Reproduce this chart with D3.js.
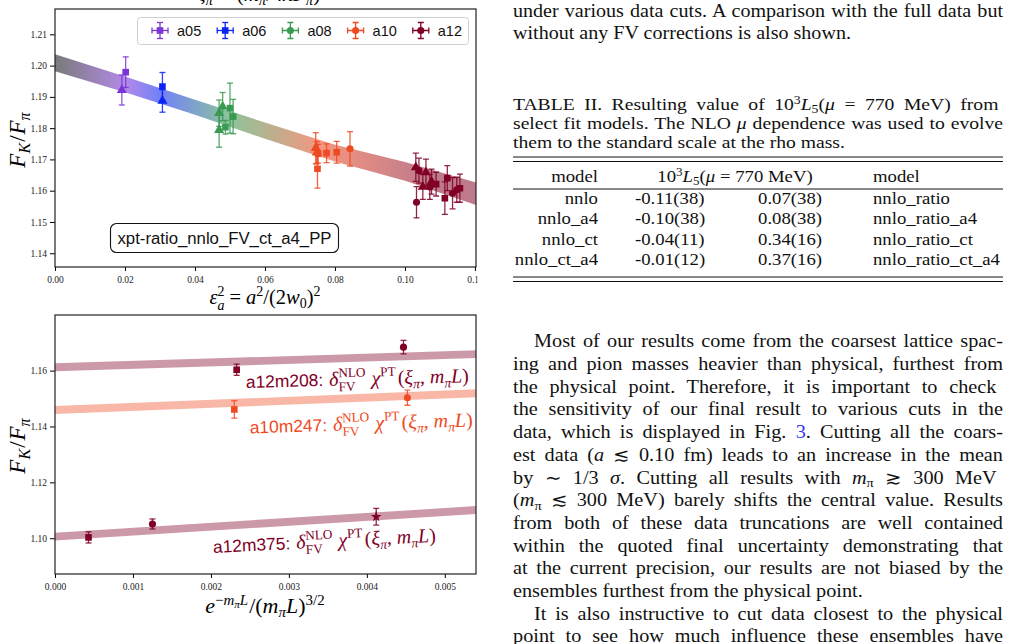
<!DOCTYPE html>
<html>
<head>
<meta charset="utf-8">
<script src="https://cdn.jsdelivr.net/npm/d3@7/dist/d3.min.js"></script>
<style>
  body { margin: 0; background: #fff; }
  svg { display: block; }
</style>
</head>
<body>
<script>
// ---------------- data ----------------
// top panel: F_K/F_pi vs eps_a^2, one row per ensemble point: [eps2, value, err, marker]
const ensembles = ["a05", "a06", "a08", "a10", "a12"];
const ensColors = ["#7b35d6", "#0c25f5", "#3a9a52", "#ee4a24", "#800026"];
const legendMarkers = ["sq", "sq", "circ", "circ", "circ"];

const a05Pts = [[0.0191, 1.1922, 0.0048, "tri"], [0.0202, 1.1979, 0.0049, "sq"]];
const a06Pts = [[0.0307, 1.1887, 0.0036, "tri"], [0.0307, 1.1933, 0.0045, "sq"]];
const a08Pts = [[0.0469, 1.1794, 0.0055, "tri"], [0.0469, 1.1848, 0.0042, "tri"], [0.0479, 1.1869, 0.0045, "tri"],
                [0.0487, 1.1803, 0.0022, "sq"], [0.0500, 1.1864, 0.0080, "sq"], [0.0509, 1.1837, 0.0055, "sq"]];
const a10Pts = [[0.0745, 1.1736, 0.0050, "tri"], [0.0748, 1.1722, 0.0035, "tri"], [0.0752, 1.1718, 0.0030, "sq"],
                [0.0750, 1.1670, 0.0062, "sq"], [0.0776, 1.1720, 0.0030, "sq"], [0.0805, 1.1723, 0.0035, "sq"],
                [0.0843, 1.1734, 0.0055, "circ"]];
const a12Pts = [[0.1031, 1.1675, 0.0045, "tri"], [0.1040, 1.1664, 0.0040, "circ"], [0.1033, 1.1563, 0.0050, "circ"],
                [0.1060, 1.1659, 0.0042, "tri"], [0.1051, 1.1612, 0.0040, "tri"], [0.1071, 1.1612, 0.0040, "circ"],
                [0.1076, 1.1629, 0.0040, "tri"], [0.1089, 1.1621, 0.0038, "sq"], [0.1121, 1.1640, 0.0040, "sq"],
                [0.1114, 1.1576, 0.0052, "sq"], [0.1136, 1.1592, 0.0050, "circ"], [0.1148, 1.1603, 0.0040, "circ"],
                [0.1157, 1.1608, 0.0045, "sq"]];
const topPts = [a05Pts, a06Pts, a08Pts, a10Pts, a12Pts];

// fit band of the top panel
const fitEps = [0, 0.02, 0.04, 0.06, 0.08, 0.10, 0.1203];
const fitMid = [1.2009, 1.1940, 1.1867, 1.1792, 1.1720, 1.1662, 1.1590];
const fitErr = [0.0027, 0.0025, 0.0024, 0.0026, 0.0027, 0.0030, 0.0036];
const fitColorEps = [0, 0.02, 0.03, 0.05, 0.076, 0.107]; // where the band takes each ensemble colour

const topTicksX = [0, 0.02, 0.04, 0.06, 0.08, 0.10, 0.12];
const topTicksY = [1.14, 1.15, 1.16, 1.17, 1.18, 1.19, 1.20, 1.21];
const modelName = "xpt-ratio_nnlo_FV_ct_a4_PP";

// bottom panel: finite volume
const fvX = [0, 0.0054];
const fvNames = ["a12m208", "a10m247", "a12m375"];
const fvColors = ["#800026", "#ee4a24", "#800026"];
const fvBands = [[1.1612, 1.1659], [1.1459, 1.1519], [1.1006, 1.1101]];
const fvBandErr = 0.0014;
const a12m208Pts = [[0.00233, 1.1603, 0.0020, "sq"], [0.00447, 1.1684, 0.0024, "circ"]];
const a10m247Pts = [[0.00230, 1.1461, 0.0031, "sq"], [0.00452, 1.1503, 0.0027, "circ"]];
const a12m375Pts = [[0.00043, 1.1003, 0.0020, "sq"], [0.00125, 1.1051, 0.0018, "circ"], [0.00412, 1.1077, 0.0030, "star"]];
const fvPts = [a12m208Pts, a10m247Pts, a12m375Pts];
const fvLabelAt = [[0.00245, 1.1538], [0.0025, 1.1375], [0.00203, 1.0947]];
const botTicksX = [0, 0.001, 0.002, 0.003, 0.004, 0.005];
const botTicksY = [1.10, 1.12, 1.14, 1.16];

// right column text
const introLines = ["under various data cuts. A comparison with the full data but",
                    "without any FV corrections is also shown."];
const captionLines = ["TABLE II.  Resulting value of 10^3^*L*_{5}(*μ* = 770 MeV) from",
                      "select fit models. The NLO *μ* dependence was used to evolve",
                      "them to the standard scale at the rho mass."];
const tableHead = ["model", "10^3^*L*_{5}(*μ* = 770 MeV)", "model"];
const tableModelsL = ["nnlo", "nnlo_a4", "nnlo_ct", "nnlo_ct_a4"];
const tableValsL = ["-0.11(38)", "-0.10(38)", "-0.04(11)", "-0.01(12)"];
const tableValsR = ["0.07(38)", "0.08(38)", "0.34(16)", "0.37(16)"];
const tableModelsR = ["nnlo_ratio", "nnlo_ratio_a4", "nnlo_ratio_ct", "nnlo_ratio_ct_a4"];
const bodyLines = [
  "Most of our results come from the coarsest lattice spac-",
  "ing and pion masses heavier than physical, furthest from",
  "the physical point.  Therefore, it is important to check",
  "the sensitivity of our final result to various cuts in the",
  "data, which is displayed in Fig. #3#. Cutting all the coars-",
  "est data (*a* ≲ 0.10 fm) leads to an increase in the mean",
  "by ∼ 1/3 *σ*.  Cutting all results with *m*_{π} ≳ 300 MeV",
  "(*m*_{π} ≲ 300 MeV) barely shifts the central value. Results",
  "from both of these data truncations are well contained",
  "within the quoted final uncertainty demonstrating that",
  "at the current precision, our results are not biased by the",
  "ensembles furthest from the physical point.",
  "It is also instructive to cut data closest to the physical",
  "point to see how much influence these ensembles have"];
const bodyIndent = [0, 12];
const bodyLast = [11];

// ---------------- helpers ----------------
const SANS = "'Liberation Sans', Arial, sans-serif";
const SERIF = "'Liberation Serif', 'Times New Roman', serif";

// mini markup: *italic*  ^sup^  _{sub}  #blue#
function parse(str) {
  return str.split(/(\*[^*]+\*|\^[^^]+\^|_\{[^}]+\}|#[^#]+#)/).filter(s => s.length).map(p => {
    if (p[0] === "*") return [p.slice(1, -1), {i: 1}];
    if (p[0] === "^") return [p.slice(1, -1), {b: -0.36, s: 0.7}];
    if (p[0] === "_" && p[1] === "{") return [p.slice(2, -1), {b: 0.2, s: 0.7}];
    if (p[0] === "#") return [p.slice(1, -1), {c: "#2a3bf0"}];
    return [p, {}];
  });
}

function spans(t, items, size) {
  let off = 0, prevW = 0, carry = 0;
  items.forEach(([s, o]) => {
    const base = (o.b || 0) * size;
    const ts = t.append("tspan").text(s).attr("dy", base - off);
    off = base;
    if (o.i) ts.style("font-style", "italic");
    if (o.s) ts.style("font-size", (o.s * size) + "px");
    if (o.f) ts.style("font-family", o.f);
    if (o.c) ts.attr("fill", o.c);
    let dx = carry + (o.dx || 0); carry = 0;
    if (o.under) dx -= prevW;
    if (dx) ts.attr("dx", dx);
    const w = ts.node().getComputedTextLength();
    if (o.under) carry = Math.max(0, prevW - w);
    prevW = w;
  });
}

function justify(t, width) {
  const n = t.node();
  const len = n.getComputedTextLength();
  const spaces = (n.textContent.match(/ /g) || []).length;
  if (spaces) t.style("word-spacing", ((width - len) / spaces) + "px");
}

const sym = {sq: d3.symbolSquare, tri: d3.symbolTriangle, circ: d3.symbolCircle, star: d3.symbolStar};
const symSize = {sq: 44, tri: 44, circ: 40, star: 36};

function drawPoints(g, pts, x, y, color) {
  const grp = g.append("g");
  pts.forEach(p => {
    const px = x(p[0]), ya = y(p[1] - p[2]), yb = y(p[1] + p[2]);
    const eb = grp.append("g").attr("stroke", color).attr("stroke-width", 1.3).attr("stroke-opacity", 0.85);
    eb.append("line").attr("x1", px).attr("x2", px).attr("y1", ya).attr("y2", yb);
    eb.append("line").attr("x1", px - 3).attr("x2", px + 3).attr("y1", ya).attr("y2", ya);
    eb.append("line").attr("x1", px - 3).attr("x2", px + 3).attr("y1", yb).attr("y2", yb);
    grp.append("path")
      .attr("d", d3.symbol().type(sym[p[3]]).size(symSize[p[3]])())
      .attr("transform", `translate(${px},${y(p[1])})`)
      .attr("fill", color);
  });
}

function drawAxes(g, x, y, xt, yt, xf, yf) {
  const ax = g.append("g").attr("transform", `translate(0,${y.range()[0]})`)
    .call(d3.axisBottom(x).tickValues(xt).tickFormat(d3.format(xf)).tickSize(4).tickPadding(5));
  const ay = g.append("g").attr("transform", `translate(${x.range()[0]},0)`)
    .call(d3.axisLeft(y).tickValues(yt).tickFormat(d3.format(yf)).tickSize(5).tickPadding(3));
  [ax, ay].forEach(a => {
    a.select(".domain").remove();
    a.attr("font-family", SERIF).attr("font-size", 9.5);
    a.selectAll(".tick text").attr("fill", "#222");
  });
  g.append("rect")
    .attr("x", x.range()[0]).attr("y", y.range()[1])
    .attr("width", x.range()[1] - x.range()[0]).attr("height", y.range()[0] - y.range()[1])
    .attr("fill", "none").attr("stroke", "#222").attr("stroke-width", 1.2);
}

function fkfpi(g, tx, ty) {
  const t = g.append("text").attr("transform", `translate(${tx},${ty}) rotate(-90)`)
    .attr("text-anchor", "middle").style("font-family", SERIF).style("font-size", "23px");
  spans(t, [["F", {i: 1}], ["K", {b: 0.22, s: 0.7, i: 1}], ["/", {dx: 1}], ["F", {i: 1, dx: 1}], ["π", {b: 0.22, s: 0.7, i: 1}]], 23);
}

// ---------------- svg ----------------
const svg = d3.select("body").append("svg").attr("width", 1010).attr("height", 644)
  .style("font-family", SERIF);
const defs = svg.append("defs");
defs.append("clipPath").attr("id", "leftclip")
  .append("rect").attr("x", 0).attr("y", 0).attr("width", 477.5).attr("height", 644);
const left = svg.append("g").attr("clip-path", "url(#leftclip)");

// ---------- top panel ----------
const xTop = d3.scaleLinear().domain([0, 0.1203]).range([55, 476]);
const yTop = d3.scaleLinear().domain([1.1356, 1.2181]).range([267, 9]);

const grad = defs.append("linearGradient").attr("id", "bandgrad")
  .attr("gradientUnits", "userSpaceOnUse")
  .attr("x1", xTop(0)).attr("x2", xTop(0.1203)).attr("y1", 0).attr("y2", 0);
const gradColors = ["#1a1a1a", "#7b35d6", "#0c25f5", "#3a9a52", "#ee4a24", "#8e1a38"];
fitColorEps.forEach((e, i) => {
  grad.append("stop").attr("offset", e / 0.1203).attr("stop-color", gradColors[i]);
});

const fitData = fitEps.map((e, i) => ({e: e, m: fitMid[i], s: fitErr[i]}));
left.append("path").datum(fitData)
  .attr("d", d3.area().x(d => xTop(d.e)).y0(d => yTop(d.m - d.s)).y1(d => yTop(d.m + d.s)))
  .attr("fill", "url(#bandgrad)").attr("fill-opacity", 0.58);

topPts.forEach((pts, i) => drawPoints(left, pts, xTop, yTop, ensColors[i]));
drawAxes(left, xTop, yTop, topTicksX, topTicksY, ".2f", ".2f");

// legend
const leg = left.append("g");
leg.append("rect").attr("x", 137.5).attr("y", 17.5).attr("width", 331).attr("height", 27).attr("rx", 3)
  .attr("fill", "#fff").attr("fill-opacity", 0.85).attr("stroke", "#cfcfcf");
ensembles.forEach((name, i) => {
  const cx = 160 + i * 65.2, cy = 30.5, c = ensColors[i];
  const eb = leg.append("g").attr("stroke", c).attr("stroke-width", 1.3);
  eb.append("line").attr("x1", cx - 8).attr("x2", cx + 8).attr("y1", cy).attr("y2", cy);
  eb.append("line").attr("x1", cx).attr("x2", cx).attr("y1", cy - 8).attr("y2", cy + 8);
  [-8, 8].forEach(d => {
    eb.append("line").attr("x1", cx - 3).attr("x2", cx + 3).attr("y1", cy + d).attr("y2", cy + d);
    eb.append("line").attr("x1", cx + d).attr("x2", cx + d).attr("y1", cy - 3).attr("y2", cy + 3);
  });
  leg.append("path").attr("d", d3.symbol().type(sym[legendMarkers[i]]).size(symSize[legendMarkers[i]])())
    .attr("transform", `translate(${cx},${cy})`).attr("fill", c);
  leg.append("text").attr("x", cx + 17).attr("y", cy + 5.5).text(name)
    .style("font-family", SANS).style("font-size", "14.5px").attr("fill", "#111");
});

// model name box
left.append("rect").attr("x", 110.5).attr("y", 223.5).attr("width", 228).attr("height", 29).attr("rx", 6)
  .attr("fill", "#fff").attr("stroke", "#111").attr("stroke-width", 1.1);
left.append("text").attr("x", 224.5).attr("y", 243.5).attr("text-anchor", "middle")
  .attr("textLength", 214).attr("lengthAdjust", "spacingAndGlyphs")
  .style("font-family", SANS).style("font-size", "16px").attr("fill", "#111").text(modelName);

// axis labels, top panel
fkfpi(left, 25, 140);
const xl1 = left.append("text").attr("x", 265).attr("y", 304).attr("text-anchor", "middle").style("font-size", "20.5px");
spans(xl1, [["ε", {i: 1}], ["2", {b: -0.38, s: 0.68}], ["a", {b: 0.28, s: 0.68, i: 1, under: 1}],
            ["=", {dx: 5}], ["a", {i: 1, dx: 5}], ["2", {b: -0.38, s: 0.68}], ["/(2", {}], ["w", {i: 1}],
            ["0", {b: 0.2, s: 0.68}], [")", {}], ["2", {b: -0.38, s: 0.68}]], 20.5);
// title of the panel above, cut by the page edge
const tl = left.append("text").attr("x", 262).attr("y", 0.5).attr("text-anchor", "middle").style("font-size", "21px");
spans(tl, [["ξ", {i: 1}], ["π", {b: 0.22, s: 0.7, i: 1}], ["=", {dx: 6}], ["(", {dx: 6}], ["m", {i: 1}], ["π", {b: 0.22, s: 0.7, i: 1}],
           ["/4", {}], ["π", {i: 1}], ["F", {i: 1}], ["π", {b: 0.22, s: 0.7, i: 1}], [")", {}], ["2", {b: -0.4, s: 0.7}]], 21);

// ---------- bottom panel ----------
const xBot = d3.scaleLinear().domain([0, 0.0054]).range([55, 476]);
const yBot = d3.scaleLinear().domain([1.0872, 1.1799]).range([574, 315]);

fvBands.forEach((b, i) => {
  const d = fvX.map((x, j) => ({x: x, m: b[j]}));
  left.append("path").datum(d)
    .attr("d", d3.area().x(p => xBot(p.x)).y0(p => yBot(p.m - fvBandErr)).y1(p => yBot(p.m + fvBandErr)))
    .attr("fill", fvColors[i]).attr("fill-opacity", 0.4);
});
fvPts.forEach((pts, i) => drawPoints(left, pts, xBot, yBot, fvColors[i]));
drawAxes(left, xBot, yBot, botTicksX, botTicksY, ".3f", ".2f");

fvNames.forEach((name, i) => {
  const b = fvBands[i];
  const ang = Math.atan2(yBot(b[1]) - yBot(b[0]), xBot(fvX[1]) - xBot(fvX[0])) * 180 / Math.PI;
  const lx = xBot(fvLabelAt[i][0]), ly = yBot(fvLabelAt[i][1]);
  const t = left.append("text").attr("transform", `translate(${lx},${ly}) rotate(${ang * 0.8})`)
    .attr("fill", fvColors[i]).style("font-size", "20px");
  spans(t, [[name + ":", {f: SANS, s: 0.87}], ["δ", {i: 1, dx: 6}], ["NLO", {b: -0.42, s: 0.66}],
            ["FV", {b: 0.28, s: 0.66, under: 1}], ["χ", {i: 1, dx: 6}], ["PT", {b: -0.42, s: 0.66}],
            ["(", {dx: 2}], ["ξ", {i: 1}], ["π", {b: 0.22, s: 0.68, i: 1}], [", ", {}], ["m", {i: 1}],
            ["π", {b: 0.22, s: 0.68, i: 1}], ["L", {i: 1}], [")", {}]], 20);
});

fkfpi(left, 25, 446);
const xl2 = left.append("text").attr("x", 265).attr("y", 613).attr("text-anchor", "middle").style("font-size", "22px");
spans(xl2, [["e", {i: 1}], ["−", {b: -0.38, s: 0.68}], ["m", {b: -0.38, s: 0.68, i: 1}], ["π", {b: -0.24, s: 0.5, i: 1}],
            ["L", {b: -0.38, s: 0.68, i: 1}], ["/(", {dx: 1}], ["m", {i: 1}], ["π", {b: 0.2, s: 0.68, i: 1}],
            ["L", {i: 1}], [")", {}], ["3/2", {b: -0.38, s: 0.68}]], 22);

// ---------- right column ----------
const right = svg.append("g").attr("fill", "#111");
const colL = 513, colW = 490;

// a block of lines: all scaled horizontally so that one reference line gets its printed width
function block(lines, y0, dy, size, refIdx, refW, noJust, indentIdx, indent) {
  const ts = lines.map(s => {
    const t = right.append("text").style("font-size", size + "px");
    spans(t, parse(s), size);
    return t;
  });
  const sx = refW / ts[refIdx].node().getComputedTextLength();
  ts.forEach((t, i) => {
    const ind = indentIdx.includes(i) ? indent : 0;
    t.attr("transform", `translate(${colL + ind},${y0 + i * dy}) scale(${sx},1)`);
    if (!noJust.includes(i)) justify(t, (colW - ind) / sx);
  });
}

block(introLines, 16.5, 22, 18.5, 1, 338, [1], [], 0);
block(captionLines, 110, 19, 16.5, 1, 480, [2], [], 0);
block(bodyLines, 347.3, 22.7, 18.5, 11, 350, bodyLast, bodyIndent, 21);

// table
const rule = y => right.append("line").attr("x1", colL).attr("x2", colL + colW).attr("y1", y).attr("y2", y)
  .attr("stroke", "#111").attr("stroke-width", 1);
rule(157); rule(161.5); rule(189); rule(277); rule(281.5);
const tfs = 16.5;
const probe = right.append("text").style("font-size", tfs + "px");
spans(probe, parse(tableModelsR[3]), tfs);
const sxT = 127 / probe.node().getComputedTextLength();
probe.remove();
function cell(str, x, yb, anchor) {
  const t = right.append("text").style("font-size", tfs + "px")
    .attr("transform", `translate(${x},${yb}) scale(${sxT},1)`);
  if (anchor) t.attr("text-anchor", anchor);
  spans(t, parse(str), tfs);
}
cell(tableHead[0], 598, 182, "end");
cell(tableHead[1], 735, 182, "middle");
cell(tableHead[2], 873, 182);
tableModelsL.forEach((m, i) => {
  const yb = 203.5 + i * 20.6;
  cell(m, 598, yb, "end");
  cell(tableValsL[i], 635, yb);
  cell(tableValsR[i], 822, yb, "end");
  cell(tableModelsR[i], 873, yb);
});
</script>
</body>
</html>
